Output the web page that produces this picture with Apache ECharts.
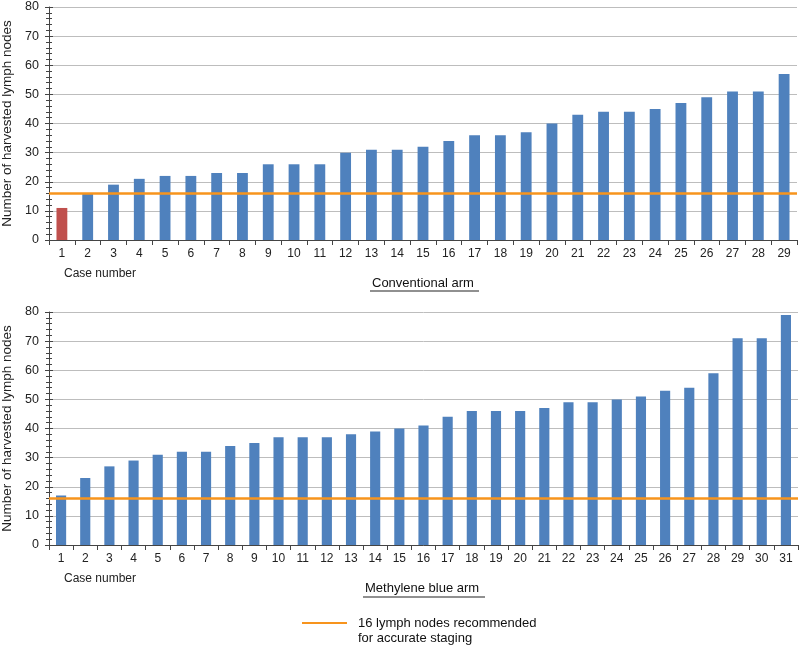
<!DOCTYPE html>
<html><head><meta charset="utf-8">
<script src="https://cdn.jsdelivr.net/npm/echarts@6/dist/echarts.min.js"></script>
<style>html,body{margin:0;padding:0;background:#fff}#c{width:800px;height:649px}</style>
</head><body><div id="c"></div>
<script>
const conventionalCases = Array.from({length:29},(_,i)=>String(i+1));
const conventionalValues = [11,16,19,21,22,22,23,23,26,26,26,30,31,31,32,34,36,36,37,40,43,44,44,45,47,49,51,51,57];
const methyleneCases = Array.from({length:31},(_,i)=>String(i+1));
const methyleneValues = [17,23,27,29,31,32,32,34,35,37,37,37,38,39,40,41,44,46,46,46,47,49,49,50,51,53,54,59,71,71,79];
const recommended = 16;
const yTicks = [0,10,20,30,40,50,60,70,80];
const highlightIndex = 0; // case 1 conventional in red

const BLUE='#4f81bd', RED='#c0504d', ORANGE='#f7941d';
const chart = echarts.init(document.getElementById('c'));
const font = 'Liberation Sans, Arial, sans-serif';

function xAxis(idx, cats){
  return {type:'category', gridIndex:idx, data:cats, boundaryGap:true,
    axisLine:{lineStyle:{color:'#444',width:1}},
    axisTick:{show:true, alignWithLabel:false, length:5, lineStyle:{color:'#444'}},
    axisLabel:{color:'#222', fontSize:12, fontFamily:font, margin:8, interval:0}};
}
function yAxis(idx){
  return {type:'value', gridIndex:idx, position:'left', min:yTicks[0], max:yTicks[yTicks.length-1], interval:10,
    name:'Number of harvested lymph nodes', nameLocation:'middle', nameGap:32,
    nameTextStyle:{color:'#222', fontSize:13.5, fontFamily:font},
    axisLine:{show:true, lineStyle:{color:'#444'}},
    axisTick:{show:true, length:4, lineStyle:{color:'#444'}},
    minorTick:{show:true, splitNumber:5, length:3, lineStyle:{color:'#444'}},
    splitLine:{show:true, lineStyle:{color:'#bdbdbd', width:1}},
    axisLabel:{color:'#222', fontSize:12.5, fontFamily:font, margin:10}};
}
function yAxisInner(idx){
  return {type:'value', gridIndex:idx, position:'left', offset:0, min:yTicks[0], max:yTicks[yTicks.length-1], interval:10,
    axisLine:{show:false},
    axisTick:{show:true, inside:true, length:4, lineStyle:{color:'#444'}},
    minorTick:{show:true, splitNumber:5, length:3, lineStyle:{color:'#444'}},
    splitLine:{show:false}, axisLabel:{show:false}};
}
function barSeries(idx, vals, hl){
  return {type:'bar', xAxisIndex:idx, yAxisIndex:idx, barWidth:'42%',
    data: vals.map((v,i)=> i===hl ? {value:v, itemStyle:{color:RED}} : v),
    itemStyle:{color:BLUE}, silent:true,
    markLine:{silent:true, symbol:'none', label:{show:false},
      lineStyle:{color:ORANGE, width:2.5, type:'solid'}, data:[{yAxis:recommended}]}};
}
chart.setOption({
  animation:false,
  grid:[{left:49, right:3, top:7, height:233, containLabel:false, outerBoundsMode:'none'},
        {left:49, right:2, top:312, height:233, containLabel:false, outerBoundsMode:'none'}],
  xAxis:[xAxis(0, conventionalCases), xAxis(1, methyleneCases)],
  yAxis:[yAxis(0), yAxis(1), yAxisInner(0), yAxisInner(1)],
  series:[barSeries(0, conventionalValues, highlightIndex), barSeries(1, methyleneValues, -1)],
  graphic:[
    {type:'text', left:64, top:268, style:{text:'Case number', fill:'#222', font:'12px '+font}},
    {type:'text', left:64, top:573, style:{text:'Case number', fill:'#222', font:'12px '+font}},
    {type:'text', left:372, top:277, style:{text:'Conventional arm', fill:'#111', font:'13px '+font}},
    {type:'line', shape:{x1:370, y1:291, x2:479, y2:291}, style:{stroke:'#222', lineWidth:1.2}},
    {type:'text', left:365, top:582, style:{text:'Methylene blue arm', fill:'#111', font:'13px '+font}},
    {type:'line', shape:{x1:363, y1:597, x2:485, y2:597}, style:{stroke:'#222', lineWidth:1.2}},
    {type:'line', shape:{x1:302, y1:623, x2:347, y2:623}, style:{stroke:ORANGE, lineWidth:2}},
    {type:'text', left:358, top:616, style:{text:'16 lymph nodes recommended\nfor accurate staging', fill:'#111', font:'13px '+font, lineHeight:15}}
  ]
});
</script></body></html>
